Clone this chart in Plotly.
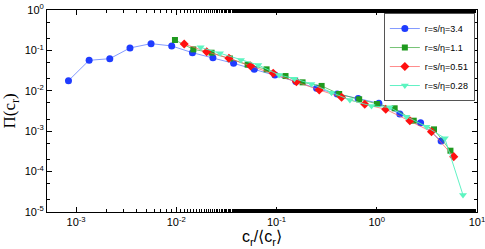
import plotly.graph_objects as go

# --- data ---
blue_x = [8.4e-4, 1.35e-3, 2.17e-3, 3.45e-3, 5.6e-3, 9.0e-3, 0.0145, 0.0232, 0.0373, 0.060,
          0.0964, 0.156, 0.251, 0.403, 0.653, 1.05, 1.70, 2.74, 4.39]
blue_y = [0.0178, 0.0569, 0.0624, 0.115, 0.147, 0.129, 0.0877, 0.0661, 0.0479, 0.0340,
          0.0246, 0.0170, 0.0115, 0.00834, 0.00646, 0.0049, 0.00267, 0.00162, 0.000575]

green_x = [0.0097, 0.0148, 0.0225, 0.0343, 0.0515, 0.0796, 0.123, 0.182, 0.282, 0.422,
           0.668, 1.005, 1.51, 2.34, 3.73, 5.44]
green_y = [0.181, 0.106, 0.0877, 0.0631, 0.0443, 0.034, 0.0232, 0.0162, 0.0132, 0.00834,
           0.00617, 0.00471, 0.00369, 0.00182, 0.00111, 0.000329]

red_x = [0.0120, 0.0201, 0.0335, 0.0552, 0.0927, 0.158, 0.267, 0.446, 0.760, 1.23,
         2.14, 3.52, 5.87]
red_y = [0.144, 0.0929, 0.0637, 0.0411, 0.0271, 0.0168, 0.0105, 0.0069, 0.00463, 0.00348,
         0.00182, 0.000973, 0.000234]

cyan_x = [0.0175, 0.0273, 0.0442, 0.0658, 0.106, 0.151, 0.223, 0.354, 0.540, 0.887,
          1.35, 1.98, 3.14, 4.78, 7.26]
cyan_y = [0.119, 0.0847, 0.0578, 0.0436, 0.0246, 0.020, 0.0148, 0.00897, 0.00592, 0.00421,
          0.00389, 0.00229, 0.00129, 0.000667, 0.0000263]

series_names = ["r=s/η=3.4", "r=s/η=1.1", "r=s/η=0.51", "r=s/η=0.28"]

x_tickvals = [1e-3, 1e-2, 1e-1, 1e0, 1e1]
x_ticktext = ["10<sup>-3</sup>", "10<sup>-2</sup>", "10<sup>-1</sup>", "10<sup>0</sup>", "10<sup>1</sup>"]
y_tickvals = [1e-5, 1e-4, 1e-3, 1e-2, 1e-1, 1e0]
y_ticktext = ["10<sup>-5</sup>", "10<sup>-4</sup>", "10<sup>-3</sup>", "10<sup>-2</sup>",
              "10<sup>-1</sup>", "10<sup>0</sup>"]

styles = [
    dict(color="#1f3cff", line="rgba(90,120,255,0.75)", symbol="circle", size=7),
    dict(color="#1f9a1f", line="rgba(60,170,60,0.7)", symbol="square", size=6),
    dict(color="#ff1010", line="rgba(255,90,90,0.7)", symbol="diamond", size=7),
    dict(color="#5cf5c0", line="rgba(80,240,190,0.9)", symbol="triangle-down", size=7),
]

fig = go.Figure()
for name, xs, ys, st in zip(series_names, [blue_x, green_x, red_x, cyan_x],
                            [blue_y, green_y, red_y, cyan_y], styles):
    fig.add_trace(go.Scatter(
        x=xs, y=ys, name=name, mode="lines+markers",
        line=dict(color=st["line"], width=1),
        marker=dict(color=st["color"], symbol=st["symbol"], size=st["size"], line=dict(width=0)),
    ))

axis_common = dict(
    type="log", showgrid=False, zeroline=False, showline=True, linecolor="black", linewidth=1,
    mirror="allticks", ticks="inside", ticklen=5, tickcolor="black", automargin=False,
    ticklabeloverflow="allow",
    minor=dict(ticks="inside", ticklen=3, tickcolor="black", showgrid=False),
    tickfont=dict(family="Liberation Sans, Arial", size=11, color="black"),
)

fig.update_xaxes(range=[-3.29, 1.0005], tickvals=x_tickvals, ticktext=x_ticktext,
                 title=dict(text="c<sub>r</sub>/⟨c<sub>r</sub>⟩", standoff=2,
                            font=dict(family="Liberation Sans, Arial", size=16, color="black")),
                 **axis_common)
fig.update_yaxes(range=[-5.0005, 0.0005], tickvals=y_tickvals, ticktext=y_ticktext,
                 title=dict(text="Π(c<sub>r</sub>)", standoff=6,
                            font=dict(family="Liberation Serif, Times New Roman", size=17, color="black")),
                 **axis_common)

fig.update_layout(
    width=485, height=249,
    margin=dict(l=47, r=8, t=10, b=37),
    paper_bgcolor="white", plot_bgcolor="white",
    font=dict(family="Liberation Sans, Arial", color="black"),
    legend=dict(x=0.995, y=0.985, xanchor="right", yanchor="top",
                bgcolor="white", bordercolor="#555", borderwidth=1,
                font=dict(size=9), tracegroupgap=0, itemwidth=30),
    showlegend=True,
)

post = ("document.body.style.margin='0px';document.body.style.padding='0px';"
        "document.body.style.overflow='hidden';"
        "Plotly.relayout('{plot_id}', {width: 485, height: 249});")

fig.write_html("out.html", config={"responsive": False, "displayModeBar": False},
               post_script=post)
